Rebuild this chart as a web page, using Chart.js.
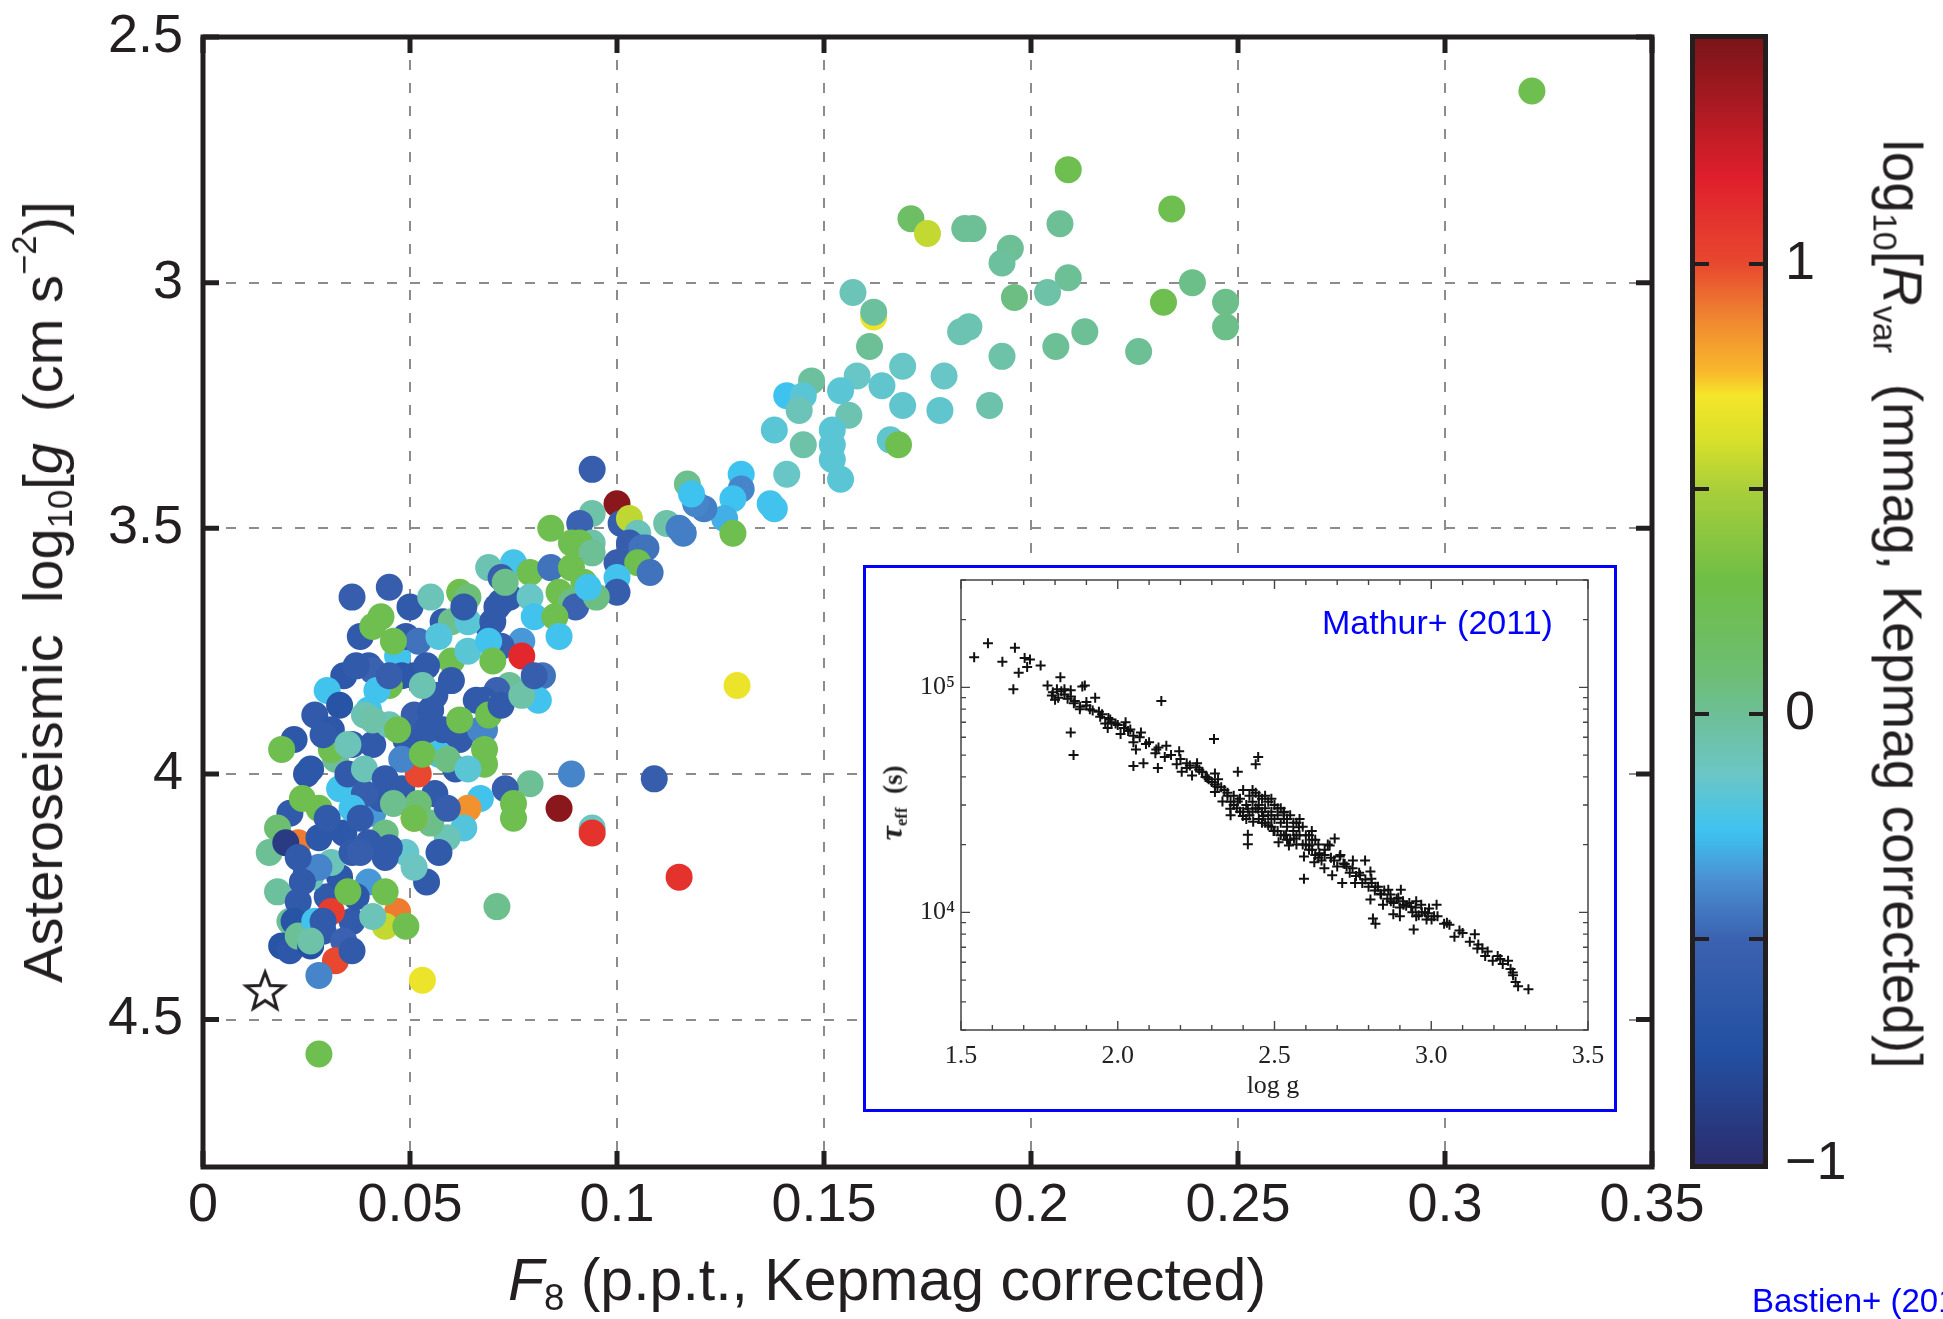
<!DOCTYPE html>
<html>
<head>
<meta charset="utf-8">
<title>F8 vs asteroseismic log g</title>
<script src="https://cdn.jsdelivr.net/npm/chart.js@4.4.1/dist/chart.umd.min.js"></script>
<style>
  html, body { margin: 0; padding: 0; background: #fff; }
  body { width: 1943px; height: 1319px; position: relative; overflow: hidden;
         font-family: "Liberation Sans", Arial, Helvetica, sans-serif; color: #231f20; }
  canvas { position: absolute; display: block; }
  .lbl { position: absolute; white-space: nowrap; line-height: 1; z-index: 3; }
  .lbl sub, .lbl sup { font-size: 0.62em; line-height: 0; }
  .lbl sub { vertical-align: -0.3em; }
  .lbl sup { vertical-align: 0.75em; }
  #inset { position: absolute; left: 863px; top: 565px; width: 754px; height: 547px;
           box-sizing: border-box; border: 3px solid #0000ff; background: #fff; z-index: 2; }
  #ytitle { left: 43px; top: 592px; font-size: 56px; transform: translate(-50%, -50%) rotate(-90deg); }
  #xtitle { left: 887px; top: 1280px; font-size: 59px; transform: translate(-50%, -50%); }
  #cbtitle { left: 1902px; top: 604px; font-size: 55px; transform: translate(-50%, -50%) rotate(90deg); }
  #mathur { left: 1322px; top: 622px; font-size: 34px; color: #0000ff; transform: translateY(-50%); }
  #bastien { left: 1752px; top: 1300px; font-size: 33px; color: #0000ff; transform: translateY(-50%); }
  .serif { font-family: "Liberation Serif", "DejaVu Serif", "Times New Roman", serif; color: #222; }
  #logg { left: 1273px; top: 1085px; font-size: 26px; transform: translate(-50%, -50%); }
  #tau { left: 891px; top: 803px; font-size: 27px; font-weight: bold; transform: translate(-50%, -50%) rotate(-90deg); }
  #tau i { font-size: 1.2em; }
</style>
</head>
<body>
<canvas id="main" width="1720" height="1319" style="left:0;top:0"></canvas>
<canvas id="cbar" width="263" height="1319" style="left:1680px;top:0"></canvas>
<div id="inset"><canvas id="insetChart" width="748" height="541" style="left:0;top:0"></canvas></div>

<div class="lbl" id="ytitle">Asteroseismic&nbsp; log<sub>10</sub>[<i>g</i>&nbsp; (cm s<sup>−2</sup>)]</div>
<div class="lbl" id="xtitle"><i>F</i><sub>8</sub> (p.p.t., Kepmag corrected)</div>
<div class="lbl" id="cbtitle">log<sub>10</sub>[<i>R</i><sub>var</sub>&nbsp; (mmag, Kepmag corrected)]</div>
<div class="lbl" id="mathur">Mathur+ (2011)</div>
<div class="lbl serif" id="logg">log g</div>
<div class="lbl serif" id="tau"><i>τ</i><sub>eff</sub>&nbsp; (s)</div>
<div class="lbl" id="bastien">Bastien+ (2013)</div>

<script>
// ---- main panel: F8 flicker vs asteroseismic log g, coloured by log10 Rvar ----
const f8Values = [
  0.023,
  0.045,0.050,0.043,0.055,0.058,0.047,0.038,0.034,0.030,0.027,
  0.022,0.032,0.041,0.049,0.056,0.062,0.048,0.033,0.021,0.041,
  0.056,0.030,0.026,0.021,0.036,
  0.321,0.209,0.234,0.171,0.175,0.184,0.186,0.195,0.193,0.207,
  0.209,0.204,0.196,0.239,0.232,0.247,0.247,0.213,0.206,0.226,
  0.157,0.162,0.162,0.185,0.183,0.161,0.193,0.169,0.179,0.158,
  0.147,0.164,0.154,0.141,0.145,0.144,0.169,0.178,0.190,0.156,
  0.138,0.152,0.152,0.166,0.168,0.145,0.152,0.154,0.141,0.130,
  0.130,0.128,0.137,0.138,0.126,0.121,0.128,0.119,0.117,0.118,
  0.112,0.115,0.116,0.100,0.094,0.094,0.091,0.101,0.103,0.105,
  0.089,0.094,0.103,0.106,0.084,0.091,0.094,0.107,0.100,0.105,
  0.108,0.100,0.100,0.075,0.069,0.072,0.079,0.084,0.089,0.092,
  0.086,0.089,0.090,0.095,0.093,0.072,0.074,0.079,0.080,0.069,
  0.085,0.086,0.077,0.072,0.077,0.082,0.081,0.074,0.071,0.068,
  0.069,0.068,0.129,0.089,0.109,0.079,0.073,0.075,0.075,0.086,
  0.094,0.094,0.115,0.071,0.068,0.067,0.019,0.031,0.025,0.018,
  0.016,0.020,0.018,0.023,0.022,0.019,0.021,0.023,0.026,0.027,
  0.029,0.031,0.034,0.032,0.028,0.028,0.047,0.044,0.049,0.053,
  0.054,0.064,0.063,0.059,0.055,0.049,0.044,0.051,0.052,0.059,
  0.061,0.057,0.052,0.048,0.043,0.040,0.044,0.040,0.044,0.037,
  0.033,0.034,0.028,0.028,0.035,0.039,0.036,0.025,0.031,0.036,
  0.028,0.024,0.035,0.036,0.062,0.064,0.071,0.060,0.064,0.070,
  0.049,0.052,0.057,0.060,0.064,0.069,0.070,0.040,0.041,0.048,
  0.051,0.045,0.042,0.056,0.060,0.066,0.033,0.040,0.039,0.045,
  0.051,0.055,0.058,0.067,0.031,0.073,0.063,0.041,0.046,0.054,
  0.053,0.045,0.037,0.036,0.041,0.047,0.054,0.062,0.069,0.068,
  0.072,0.077,0.080,0.053,0.059,0.064,0.039,0.044,0.026,0.029,
  0.035,0.024,0.030,0.038,0.046,0.051,0.045,0.038,0.051,0.057,
  0.023,0.029,0.041,0.026,0.036
];
const loggValues = [
  4.14,
  3.62,3.66,3.68,3.64,3.69,3.76,3.72,3.80,3.83,3.88,
  3.93,3.97,3.94,3.93,3.94,3.93,4.03,4.03,4.08,4.08,
  4.04,4.25,4.21,4.30,4.30,
  2.61,2.77,2.85,2.87,2.90,2.89,2.89,2.93,2.96,2.88,
  2.99,3.02,3.03,3.00,3.04,3.04,3.09,3.10,3.13,3.14,
  3.02,3.07,3.06,3.09,3.10,3.13,3.15,3.17,3.19,3.19,
  3.20,3.21,3.22,3.23,3.23,3.26,3.25,3.26,3.25,3.27,
  3.30,3.30,3.33,3.32,3.33,3.33,3.36,3.40,3.39,3.39,
  3.42,3.44,3.45,3.46,3.48,3.46,3.51,3.45,3.41,3.43,
  3.49,3.50,3.51,3.45,3.38,3.47,3.49,3.49,3.48,3.51,
  3.53,3.53,3.53,3.54,3.50,3.53,3.55,3.54,3.57,3.57,
  3.59,3.60,3.63,3.57,3.58,3.60,3.59,3.58,3.58,3.61,
  3.63,3.65,3.66,3.64,3.62,3.65,3.64,3.64,3.68,3.70,
  3.68,3.72,3.73,3.74,3.76,3.80,3.85,3.82,3.83,3.85,
  3.87,3.91,3.82,4.00,4.01,4.02,4.03,4.06,4.09,4.07,
  4.11,4.12,4.21,4.27,3.98,4.05,3.95,3.95,4.00,4.11,
  4.16,4.14,4.24,4.26,4.30,4.35,4.36,4.33,4.35,4.30,
  4.32,4.28,4.34,4.38,4.41,4.57,4.28,4.31,4.31,4.42,
  4.22,4.07,4.11,4.13,4.10,4.16,4.12,4.09,4.06,4.07,
  3.99,3.96,4.00,3.97,4.05,4.14,4.17,4.22,4.24,4.25,
  4.21,4.12,4.13,4.07,4.00,4.04,4.07,4.20,4.18,4.16,
  4.19,4.22,4.24,3.64,3.63,3.64,3.66,3.69,3.69,3.69,
  3.72,3.73,3.72,3.77,3.75,3.73,3.77,3.78,3.79,3.80,
  3.80,3.82,3.83,3.84,3.81,3.85,3.86,3.87,3.88,3.90,
  3.88,3.87,3.91,3.91,3.91,3.61,3.66,3.70,3.73,3.78,
  3.82,3.80,3.78,3.94,3.89,3.91,3.91,3.89,3.88,3.95,
  3.86,3.84,3.80,3.96,3.97,3.99,3.99,4.01,3.99,3.92,
  3.94,4.05,4.09,4.09,4.06,4.09,4.15,4.16,4.19,4.16,
  4.17,4.30,4.29,4.34,4.36
];
const rvarValues = [
  0.9,
  -0.55,-0.6,0.25,-0.1,-0.6,-0.25,-0.6,-0.65,-0.25,-0.6,
  -0.65,0.0,-0.6,-0.6,-0.12,-0.6,-0.6,-0.25,-0.6,-0.35,
  -0.6,-0.6,-0.1,0.0,-0.6,
  0.25,0.25,0.25,0.15,0.56,0.0,0.0,0.0,-0.02,0.0,
  0.0,-0.05,0.05,0.03,0.25,0.03,0.03,0.0,0.0,0.0,
  -0.1,0.68,-0.02,-0.08,-0.08,0.0,-0.05,-0.14,-0.14,-0.14,
  -0.02,-0.16,-0.18,-0.26,-0.18,-0.1,-0.16,-0.16,-0.06,-0.08,
  -0.18,-0.18,-0.18,-0.16,0.25,-0.05,-0.18,-0.18,-0.14,-0.26,
  -0.4,-0.26,-0.25,-0.25,-0.3,-0.42,0.25,-0.4,0.02,-0.26,
  -0.05,-0.42,-0.42,1.45,-0.55,-0.05,-0.5,-0.55,0.55,-0.1,
  0.25,-0.05,-0.55,-0.45,0.25,0.25,0.0,-0.45,-0.55,0.25,
  -0.45,-0.25,-0.55,-0.24,-0.08,-0.55,0.25,-0.45,0.25,0.25,
  0.25,0.05,-0.5,0.05,-0.25,-0.6,-0.6,-0.14,-0.25,-0.65,
  0.25,-0.25,-0.35,-0.55,1.15,-0.45,-0.25,0.0,-0.5,-0.6,
  0.25,-0.4,0.68,-0.4,-0.55,0.0,-0.55,0.25,0.25,1.45,
  -0.12,1.1,1.1,0.02,0.25,-0.25,0.25,0.25,-0.65,0.1,
  0.0,-0.9,-0.02,-0.6,-0.7,-0.7,-0.65,0.0,-0.75,-0.25,
  -0.6,1.05,-0.5,1.0,-0.4,0.25,0.9,0.56,0.25,0.68,
  -0.6,0.85,-0.2,-0.1,0.03,-0.15,0.05,0.85,0.08,-0.55,
  -0.6,-0.25,1.0,-0.4,-0.6,-0.6,-0.6,-0.35,0.25,-0.65,
  -0.65,-0.65,-0.65,0.25,-0.6,-0.55,-0.25,-0.6,-0.1,-0.6,
  -0.4,-0.6,0.25,-0.55,0.25,0.08,-0.6,0.02,-0.18,-0.6,
  -0.6,-0.45,-0.2,0.25,-0.18,-0.25,0.25,-0.6,-0.5,-0.65,
  -0.65,0.25,-0.25,-0.6,-0.6,-0.6,-0.7,-0.25,-0.08,-0.1,
  -0.55,-0.6,-0.6,-0.4,-0.65,0.03,-0.6,0.25,0.25,-0.6,
  -0.08,-0.55,-0.6,-0.6,-0.05,0.25,-0.6,0.25,0.25,0.25,
  -0.6,-0.05,-0.55,0.25,0.05,-0.18,-0.1,-0.6,-0.65,-0.6,
  -0.1,0.25,-0.6,-0.6,0.02,0.25,-0.6,-0.55,-0.12,-0.6,
  -0.6,-0.6,-0.1,-0.05,-0.6
];
// the Sun (open star)
const sunF8 = [0.015];
const sunLogg = [4.44];

const xTickValues = [0, 0.05, 0.1, 0.15, 0.2, 0.25, 0.3, 0.35];
const xTickLabels = ['0', '0.05', '0.1', '0.15', '0.2', '0.25', '0.3', '0.35'];
const yTickValues = [2.5, 3, 3.5, 4, 4.5];
const yTickLabels = ['2.5', '3', '3.5', '4', '4.5'];

// colour bar
const cbarMin = -1, cbarMax = 1.5;
const cbarTickValues = [-1, -0.5, 0, 0.5, 1];
const cbarTickLabels = ['−1', '', '0', '', '1'];

// ---- inset: Mathur+ (2011) tau_eff vs log g ----
const insetLogg = [
  1.542,1.586,1.632,1.672,1.667,1.684,1.703,1.711,1.720,1.754,
  1.776,1.793,1.806,1.817,1.830,1.850,1.863,1.887,1.895,1.879,
  1.928,1.850,1.859,1.911,1.944,1.960,1.976,1.968,1.993,2.025,
  2.009,2.033,2.050,2.074,2.058,2.050,2.082,2.090,2.123,2.139,
  2.155,2.128,2.196,2.188,2.220,2.253,2.204,2.237,2.269,2.285,
  2.310,2.307,2.318,2.310,2.334,2.350,2.383,2.359,2.415,2.440,
  2.448,2.415,2.415,2.383,2.399,2.432,2.448,2.464,2.480,2.497,
  2.513,2.529,2.537,2.546,2.562,2.578,2.594,2.594,2.611,2.627,
  2.619,2.643,2.659,2.676,2.684,2.692,2.708,2.716,2.724,2.749,
  2.757,2.773,2.789,2.806,2.809,2.806,2.822,2.814,2.822,2.838,
  2.846,2.863,2.871,2.879,2.895,2.900,2.903,2.911,2.936,2.944,
  2.952,2.952,2.968,2.985,2.993,3.001,3.009,3.017,3.041,3.058,
  3.074,3.090,3.123,3.139,3.147,3.163,3.172,3.196,3.212,3.228,
  3.245,3.253,3.261,3.269,3.277,3.310,
  2.36,2.37,2.38,2.39,2.40,2.40,2.41,2.42,2.42,2.43,
  2.44,2.44,2.45,2.45,2.46,2.46,2.47,2.47,2.48,2.48,
  2.49,2.49,2.50,2.50,2.51,2.51,2.52,2.52,2.53,2.53,
  2.54,2.55,2.55,2.56,2.57,2.57,2.58,2.59,2.60,2.60,
  2.61,2.62,2.63,2.64,2.65,2.66,2.68,2.70,2.72,2.74,
  2.76,2.78,2.80,2.82,2.84,2.86,2.88,2.90,2.92,2.94,
  2.96,2.98,
  1.79,1.81,1.83,1.80,1.84,1.86,1.88,1.90,1.92,1.95,
  1.97,2.00,2.04,2.07,2.10,2.13,2.17,2.20,2.23,2.26,
  2.28,2.30,2.33,2.35,
  2.36,2.37,2.39,2.41,2.43,2.43,2.45,2.46,2.47,2.49,
  2.49,2.50,2.51,2.52,2.53,2.54,2.54,2.56,2.57,2.58,
  2.59,2.61,2.62,2.63,2.64,2.66,2.67,2.69,2.71,2.73,
  2.75,2.77,2.79,2.81,2.83,2.85,2.87,2.89,2.91,2.93,
  2.95,2.97,2.99,3.02,3.05,3.10,3.15,3.18,3.22,3.26,
  2.22,2.25,2.27,2.29,2.31,2.32,2.34,2.12,2.15,2.05,
  2.02,1.98,1.94,1.90,1.85,1.82
];
const insetTau = [
  1.36e5,1.57e5,1.30e5,1.50e5,9.8e4,1.16e5,1.35e5,1.23e5,1.33e5,1.25e5,
  1.02e5,9.5e4,9.8e4,1.11e5,9.8e4,9.7e4,8.7e4,1.01e5,1.02e5,8.0e4,
  9.0e4,6.3e4,5.0e4,8.0e4,7.4e4,6.9e4,7.2e4,6.6e4,6.9e4,7.0e4,
  6.2e4,6.4e4,5.7e4,6.3e4,5.3e4,4.47e4,4.6e4,5.6e4,5.3e4,8.7e4,
  5.5e4,4.38e4,5.2e4,4.55e4,4.38e4,4.6e4,4.22e4,4.06e4,4.22e4,3.98e4,
  4.14e4,5.9e4,3.62e4,3.43e4,3.11e4,3.30e4,4.22e4,2.89e4,2.89e4,4.55e4,
  4.9e4,2.21e4,2.01e4,3.11e4,2.68e4,2.53e4,2.89e4,2.68e4,2.44e4,2.30e4,
  2.05e4,2.78e4,2.21e4,1.98e4,2.13e4,2.39e4,1.77e4,1.41e4,1.98e4,1.67e4,
  2.30e4,1.83e4,1.57e4,1.98e4,1.46e4,2.13e4,1.77e4,1.35e4,1.64e4,1.57e4,
  1.35e4,1.46e4,1.70e4,1.52e4,1.41e4,1.14e4,1.30e4,9.4e3,8.9e3,1.21e4,
  1.08e4,1.26e4,1.12e4,9.8e3,1.16e4,9.6e3,1.26e4,1.08e4,1.06e4,8.4e3,
  1.12e4,9.6e3,1.08e4,9.3e3,1.04e4,9.3e3,9.6e3,1.08e4,8.9e3,8.8e3,
  7.8e3,8.3e3,7.4e3,8.0e3,6.9e3,6.9e3,6.4e3,6.1e3,6.4e3,5.9e3,
  6.1e3,5.6e3,5.25e3,4.9e3,4.7e3,4.55e3,
  3.1e4,3.3e4,2.9e4,3.2e4,3.5e4,2.8e4,3.0e4,3.3e4,2.7e4,3.1e4,
  2.9e4,3.4e4,2.6e4,3.0e4,2.8e4,3.2e4,2.5e4,2.9e4,2.7e4,3.1e4,
  2.4e4,2.8e4,2.6e4,3.0e4,2.3e4,2.7e4,2.5e4,2.9e4,2.2e4,2.6e4,
  2.4e4,2.7e4,2.1e4,2.3e4,2.5e4,2.0e4,2.2e4,2.4e4,2.0e4,2.2e4,
  1.9e4,2.1e4,1.8e4,2.0e4,1.7e4,1.9e4,1.75e4,1.6e4,1.65e4,1.5e4,
  1.45e4,1.35e4,1.3e4,1.25e4,1.2e4,1.15e4,1.1e4,1.05e4,1.07e4,1.0e4,
  9.7e3,1.0e4,
  9.2e4,9.0e4,9.3e4,8.8e4,8.9e4,8.5e4,8.2e4,8.3e4,7.9e4,7.6e4,
  7.3e4,6.8e4,6.5e4,6.0e4,5.7e4,5.4e4,5.0e4,4.8e4,4.5e4,4.3e4,
  4.0e4,3.8e4,3.6e4,3.4e4,
  2.7e4,3.0e4,2.8e4,2.6e4,2.8e4,3.5e4,3.3e4,2.5e4,3.3e4,2.6e4,
  3.2e4,2.3e4,2.9e4,2.2e4,2.8e4,2.1e4,2.6e4,2.5e4,2.2e4,2.6e4,
  2.0e4,2.2e4,1.9e4,2.1e4,1.75e4,1.8e4,2.0e4,1.7e4,1.8e4,1.6e4,
  1.7e4,1.5e4,1.4e4,1.35e4,1.3e4,1.25e4,1.2e4,1.15e4,1.12e4,1.1e4,
  1.05e4,1.0e4,9.9e3,9.6e3,9.0e3,8.1e3,7.2e3,6.7e3,6.2e3,5.4e3,
  4.6e4,4.4e4,4.2e4,3.9e4,3.7e4,3.9e4,3.5e4,5.1e4,4.9e4,6.1e4,
  6.6e4,7.0e4,7.8e4,8.6e4,9.1e4,9.6e4
];
const insetXTicks = [1.5, 2.0, 2.5, 3.0, 3.5];
const insetXLabels = ['1.5', '2.0', '2.5', '3.0', '3.5'];
const insetYTicks = [1e4, 1e5];
const insetYLabels = ['10⁴', '10⁵'];

// jet-like colour map of the colour bar (value -> colour)
const cmap = [
  [-1.0, '#2b2d6e'], [-0.75, '#2350a2'], [-0.5, '#3b62b0'], [-0.37, '#4a8fd2'],
  [-0.26, '#3ec3f1'], [-0.13, '#6cc6c4'], [0.0, '#6dbf96'], [0.09, '#6dbe73'],
  [0.3, '#6fbe45'], [0.5, '#a9cf3a'], [0.61, '#d8e02a'], [0.71, '#f5e52a'],
  [0.76, '#f8b82b'], [0.87, '#f08a30'], [1.0, '#e8482f'], [1.19, '#e01f2c'],
  [1.5, '#7a1518']
];

function hexRgb(h) {
  const n = parseInt(h.slice(1), 16);
  return [(n >> 16) & 255, (n >> 8) & 255, n & 255];
}
function rvarColor(v) {
  if (v <= cmap[0][0]) return cmap[0][1];
  for (let i = 1; i < cmap.length; i++) {
    if (v <= cmap[i][0]) {
      const [v0, c0] = cmap[i - 1], [v1, c1] = cmap[i];
      const t = (v - v0) / (v1 - v0);
      const a = hexRgb(c0), b = hexRgb(c1);
      return 'rgb(' + a.map((x, k) => Math.round(x + (b[k] - x) * t)).join(',') + ')';
    }
  }
  return cmap[cmap.length - 1][1];
}

function makeStar(R) {
  const c = document.createElement('canvas');
  const s = Math.ceil(2 * R + 8);
  c.width = s; c.height = s;
  const g = c.getContext('2d');
  g.translate(s / 2, s / 2 + R * 0.1);
  g.beginPath();
  for (let i = 0; i < 10; i++) {
    const r = i % 2 ? R * 0.42 : R;
    const a = -Math.PI / 2 + i * Math.PI / 5;
    g.lineTo(r * Math.cos(a), r * Math.sin(a));
  }
  g.closePath();
  g.fillStyle = '#fff';
  g.fill();
  g.lineWidth = 3;
  g.strokeStyle = '#231f20';
  g.stroke();
  return c;
}

// inward tick marks on all four sides + frame
const inwardTicks = {
  id: 'inwardTicks',
  afterDatasetsDraw(chart, args, o) {
    const { ctx, chartArea: a } = chart;
    ctx.save();
    ctx.strokeStyle = o.color;
    (o.x || []).forEach(t => {
      const px = chart.scales.x.getPixelForValue(t.v);
      ctx.lineWidth = t.w;
      ctx.beginPath();
      ctx.moveTo(px, a.top); ctx.lineTo(px, a.top + t.len);
      ctx.moveTo(px, a.bottom); ctx.lineTo(px, a.bottom - t.len);
      ctx.stroke();
    });
    (o.y || []).forEach(t => {
      const py = chart.scales.y.getPixelForValue(t.v);
      ctx.lineWidth = t.w;
      ctx.beginPath();
      ctx.moveTo(a.left, py); ctx.lineTo(a.left + t.len, py);
      ctx.moveTo(a.right, py); ctx.lineTo(a.right - t.len, py);
      ctx.stroke();
    });
    const h = o.outside ? o.frameWidth / 2 : 0;
    ctx.lineWidth = o.frameWidth;
    ctx.strokeRect(a.left - h, a.top - h, a.width + 2 * h, a.height + 2 * h);
    ctx.restore();
  }
};

// fixed axis sizes, no extra label padding pushed into the layout
const fixH = hgt => s => { s.height = hgt; s.paddingLeft = 0; s.paddingRight = 0; };
const fixW = wid => s => { s.width = wid; s.paddingTop = 0; s.paddingBottom = 0; };

Chart.defaults.font.family = '"Liberation Sans", Arial, Helvetica, sans-serif';
Chart.defaults.color = '#231f20';

const sansTick = { family: '"Liberation Sans", Arial, Helvetica, sans-serif', size: 54 };
const serifTick = { family: '"Liberation Serif", "DejaVu Serif", "Times New Roman", serif', size: 26 };

// main chart
new Chart(document.getElementById('main'), {
  type: 'scatter',
  data: {
    datasets: [
      {
        data: sunF8.map((x, i) => ({ x, y: sunLogg[i] })),
        pointStyle: makeStar(20),
        pointRadius: 20
      },
      {
        data: f8Values.map((x, i) => ({ x, y: loggValues[i] })),
        backgroundColor: c => rvarColor(rvarValues[c.dataIndex]),
        borderWidth: 0,
        pointRadius: 13.5
      }
    ]
  },
  options: {
    responsive: false,
    animation: false,
    events: [],
    layout: { padding: { top: 37, right: 68, left: 0, bottom: 0 } },
    plugins: {
      legend: { display: false },
      tooltip: { enabled: false },
      inwardTicks: {
        color: '#231f20', frameWidth: 5,
        x: xTickValues.map(v => ({ v, len: 16, w: 5 })),
        y: yTickValues.map(v => ({ v, len: 16, w: 5 }))
      }
    },
    scales: {
      x: {
        type: 'linear', min: 0, max: 0.35,
        afterBuildTicks: s => { s.ticks = xTickValues.map(v => ({ value: v })); },
        afterFit: fixH(152),
        grid: { color: '#8c8c8c', lineWidth: 2, drawTicks: false },
        border: { display: false, dash: [10, 13] },
        ticks: { callback: (v, i) => xTickLabels[i], font: sansTick, color: '#231f20',
                 padding: 7, maxRotation: 0, autoSkip: false }
      },
      y: {
        type: 'linear', reverse: true, min: 2.5, max: 4.8,
        afterBuildTicks: s => { s.ticks = yTickValues.map(v => ({ value: v })); },
        afterFit: fixW(203),
        grid: { color: '#8c8c8c', lineWidth: 2, drawTicks: false },
        border: { display: false, dash: [10, 13] },
        ticks: { callback: (v, i) => yTickLabels[i], font: sansTick, color: '#231f20',
                 padding: 20, autoSkip: false }
      }
    }
  },
  plugins: [inwardTicks]
});

// colour bar
new Chart(document.getElementById('cbar'), {
  type: 'bar',
  data: {
    labels: [''],
    datasets: [{
      data: [[cbarMin, cbarMax]],
      barPercentage: 1,
      categoryPercentage: 1,
      borderWidth: 0,
      backgroundColor: c => {
        const chart = c.chart;
        if (!chart.chartArea) return '#888';
        const y = chart.scales.y;
        const g = chart.ctx.createLinearGradient(0, y.getPixelForValue(cbarMin), 0, y.getPixelForValue(cbarMax));
        cmap.forEach(([v, col]) => g.addColorStop((v - cbarMin) / (cbarMax - cbarMin), col));
        return g;
      }
    }]
  },
  options: {
    responsive: false,
    animation: false,
    events: [],
    layout: { padding: { top: 39, bottom: 155, left: 15, right: 0 } },
    plugins: {
      legend: { display: false },
      tooltip: { enabled: false },
      inwardTicks: {
        color: '#231f20', frameWidth: 5, outside: true,
        y: cbarTickValues.filter(v => v > cbarMin).map(v => ({ v, len: 14, w: 4 }))
      }
    },
    scales: {
      x: { display: false },
      y: {
        type: 'linear', position: 'right', min: cbarMin, max: cbarMax,
        afterBuildTicks: s => { s.ticks = cbarTickValues.map(v => ({ value: v })); },
        afterFit: fixW(180),
        grid: { display: false, drawTicks: false },
        border: { display: false },
        ticks: { callback: (v, i) => cbarTickLabels[i], font: sansTick, color: '#231f20',
                 padding: 22, autoSkip: false }
      }
    }
  },
  plugins: [inwardTicks]
});

// inset
const insetXTickMarks = [];
for (let k = 15; k <= 35; k++) {
  insetXTickMarks.push({ v: k / 10, len: k % 5 === 0 ? 9 : 5, w: 1.4 });
}
const insetYTickMarks = [];
[1e3, 1e4, 1e5].forEach(d => {
  for (let k = 1; k <= 9; k++) {
    const v = k * d;
    if (v >= 3000 && v <= 300000) insetYTickMarks.push({ v, len: k === 1 ? 9 : 5, w: 1.4 });
  }
});

new Chart(document.getElementById('insetChart'), {
  type: 'scatter',
  data: {
    datasets: [{
      data: insetLogg.map((x, i) => ({ x, y: insetTau[i] })),
      pointStyle: 'cross',
      pointRadius: 5,
      borderColor: '#111',
      backgroundColor: '#111',
      borderWidth: 2
    }]
  },
  options: {
    responsive: false,
    animation: false,
    events: [],
    layout: { padding: { top: 12, right: 26, left: 0, bottom: 0 } },
    plugins: {
      legend: { display: false },
      tooltip: { enabled: false },
      inwardTicks: { color: '#444', frameWidth: 1.5, x: insetXTickMarks, y: insetYTickMarks }
    },
    scales: {
      x: {
        type: 'linear', min: 1.5, max: 3.5,
        afterBuildTicks: s => { s.ticks = insetXTicks.map(v => ({ value: v })); },
        afterFit: fixH(79),
        grid: { display: false, drawTicks: false },
        border: { display: false },
        ticks: { callback: (v, i) => insetXLabels[i], font: serifTick, color: '#222',
                 padding: 11, maxRotation: 0, autoSkip: false }
      },
      y: {
        type: 'logarithmic', min: 3000, max: 300000,
        afterBuildTicks: s => { s.ticks = insetYTicks.map(v => ({ value: v })); },
        afterFit: fixW(95),
        grid: { display: false, drawTicks: false },
        border: { display: false },
        ticks: { callback: (v, i) => insetYLabels[i], font: serifTick, color: '#222',
                 padding: 6, autoSkip: false }
      }
    }
  },
  plugins: [inwardTicks]
});
</script>
</body>
</html>
